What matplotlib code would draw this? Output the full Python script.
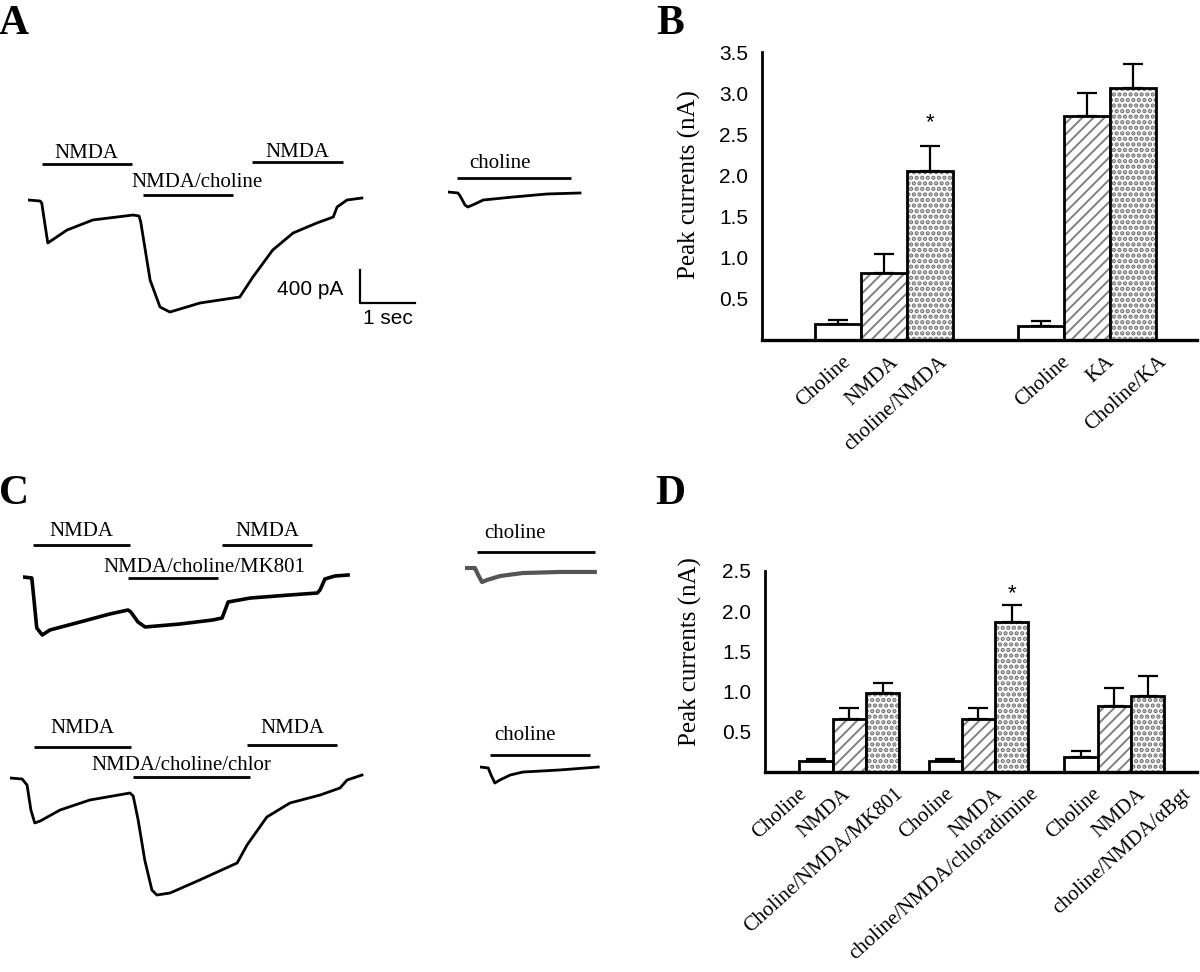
import matplotlib
matplotlib.use("Agg")
import matplotlib.pyplot as plt

# ---------------- data ----------------
# Panel A: whole-cell current traces (time in s, current in pA)
a_main_t = [0, 0.22, 0.25, 0.31, 0.36, 0.44, 0.71, 1.18, 1.91, 2.02, 2.05, 2.22, 2.40, 2.58,
            3.13, 3.85, 4.09, 4.45, 4.82, 5.25, 5.55, 5.62, 5.80, 6.07]
a_main_i = [0, -12, -36, -303, -521, -485, -364, -242, -182, -194, -267, -970, -1297, -1358,
            -1248, -1176, -933, -606, -400, -279, -206, -85, 0, 24]
a_chol_t = [0, 0.18, 0.22, 0.31, 0.36, 0.49, 0.64, 1.18, 1.80, 2.40]
a_chol_i = [0, -12, -48, -158, -182, -145, -97, -61, -24, -12]

# Panel C top (MK801) and bottom (chloradimine) traces
c1_main_t = [0, 0.16, 0.20, 0.25, 0.35, 0.49, 1.04, 1.58, 1.91, 1.96, 2.09, 2.22, 2.85, 3.45,
             3.62, 3.73, 4.13, 4.85, 5.35, 5.40, 5.49, 5.67, 5.91]
c1_main_i = [0, -12, -279, -618, -703, -642, -545, -448, -400, -424, -545, -606, -570, -521,
             -497, -303, -255, -218, -194, -158, -24, 12, 24]
c1_chol_t = [0, 0.18, 0.24, 0.31, 0.40, 0.64, 1.05, 1.73, 2.36]
c1_chol_i = [0, 0, -85, -170, -145, -97, -61, -48, -48]

c2_main_t = [0, 0.22, 0.31, 0.38, 0.45, 0.55, 0.91, 1.45, 2.18, 2.24, 2.33, 2.45, 2.58, 2.67,
             2.91, 3.45, 4.13, 4.31, 4.67, 5.09, 5.64, 6.00, 6.13, 6.40]
c2_main_i = [0, -12, -85, -388, -545, -521, -388, -267, -182, -218, -509, -994, -1358, -1418,
             -1394, -1236, -1030, -812, -473, -303, -206, -121, -24, 36]
c2_chol_t = [0, 0.15, 0.20, 0.27, 0.36, 0.55, 0.78, 1.45, 2.15]
c2_chol_i = [0, -12, -97, -194, -158, -97, -61, -36, 0]

# drug applications: (label, start s, end s)
a_apps = [("NMDA", 0.25, 1.89), ("NMDA/choline", 2.09, 3.73), ("NMDA", 4.07, 5.73)]
a_chol_app = ("choline", 0.16, 2.24)
c1_apps = [("NMDA", 0.18, 1.95), ("NMDA/choline/MK801", 1.91, 3.55), ("NMDA", 3.62, 5.25)]
c1_chol_app = ("choline", 0.22, 2.36)
c2_apps = [("NMDA", 0.44, 2.20), ("NMDA/choline/chlor", 2.24, 4.36), ("NMDA", 4.31, 5.95)]
c2_chol_app = ("choline", 0.18, 2.00)

# Panel B: peak currents (nA)
b_labels = ["Choline", "NMDA", "choline/NMDA", "Choline", "KA", "Choline/KA"]
b_values = [0.19, 0.81, 2.05, 0.17, 2.72, 3.06]
b_errors = [0.05, 0.23, 0.31, 0.06, 0.28, 0.29]
b_kind = ["open", "diag", "dots", "open", "diag", "dots"]

# Panel D: peak currents (nA)
d_labels = ["Choline", "NMDA", "Choline/NMDA/MK801",
            "Choline", "NMDA", "choline/NMDA/chloradimine",
            "Choline", "NMDA", "choline/NMDA/\u03b1Bgt"]
d_values = [0.135, 0.665, 0.98, 0.135, 0.665, 1.86, 0.19, 0.82, 0.95]
d_errors = [0.025, 0.135, 0.13, 0.025, 0.135, 0.22, 0.07, 0.22, 0.24]
d_kind = ["open", "diag", "dots"] * 3

# ---------------- layout ----------------
W, H = 1200, 972
PX_S = 55.0          # pixels per second
PX_PA = 33.0 / 400   # pixels per pA
SERIF = ["Liberation Serif", "DejaVu Serif"]
SANS = ["Liberation Sans", "DejaVu Sans"]

fig = plt.figure(figsize=(W / 100, H / 100), dpi=100)
fig.patch.set_facecolor("white")


def trace_ax(x0, y_base, width, above=70, below=140):
    ax = fig.add_axes([x0 / W, 1 - (y_base + below) / H, width / W, (above + below) / H])
    ax.set_xlim(0, width / PX_S)
    ax.set_ylim(-below / PX_PA, above / PX_PA)
    ax.axis("off")
    return ax


def draw_app(ax, app, bar_px, text_px, text_t=None):
    name, t0, t1 = app
    ax.plot([t0, t1], [bar_px / PX_PA] * 2, color="black", lw=2, solid_capstyle="butt")
    tx = (t0 + t1) / 2 if text_t is None else text_t
    ax.text(tx, text_px / PX_PA, name, ha="center", va="center", fontsize=15,
            family=SERIF)


def trace(ax, t, i, color="black", lw=2.0):
    ax.plot(t, i, color=color, lw=lw, solid_joinstyle="round")


# Panel A
ax = trace_ax(28, 200, 420)
trace(ax, a_main_t, a_main_i)
draw_app(ax, a_apps[0], 36, 47)
draw_app(ax, a_apps[1], 5, 18, text_t=3.08)
draw_app(ax, a_apps[2], 38, 48)
# scale bar
sb_t, sb_i = 6.04, -1248
ax.plot([sb_t, sb_t, sb_t + 1], [sb_i + 400, sb_i, sb_i], color="black", lw=1.6)
ax.text(sb_t - 0.3, sb_i + 160, "400 pA", ha="right", va="center", fontsize=15, family=SANS)
ax.text(sb_t + 0.5, sb_i - 185, "1 sec", ha="center", va="center", fontsize=15, family=SANS)

ax = trace_ax(448, 192, 160)
trace(ax, a_chol_t, a_chol_i)
draw_app(ax, a_chol_app, 14, 28, text_t=0.95)

# Panel C top
ax = trace_ax(23, 577, 360)
trace(ax, c1_main_t, c1_main_i, lw=2.6)
draw_app(ax, c1_apps[0], 32, 45)
draw_app(ax, c1_apps[1], -1, 10, text_t=3.29)
draw_app(ax, c1_apps[2], 32, 45)
ax = trace_ax(465, 568, 160)
trace(ax, c1_chol_t, c1_chol_i, color="#555555", lw=3.0)
draw_app(ax, c1_chol_app, 16, 35, text_t=0.91)

# Panel C bottom
ax = trace_ax(10, 778, 380)
trace(ax, c2_main_t, c2_main_i)
draw_app(ax, c2_apps[0], 31, 50)
draw_app(ax, c2_apps[1], 1, 13, text_t=3.11)
draw_app(ax, c2_apps[2], 33, 50)
ax = trace_ax(480, 767, 160)
trace(ax, c2_chol_t, c2_chol_i)
draw_app(ax, c2_chol_app, 12, 32, text_t=0.82)

HATCH = {"diag": ("///", 1.4, "#808080"), "dots": ("...", 2.2, "#767676")}


def bar_panel(rect, unit_px, xpos, values, errors, kinds, label_pos, labels, ymax, yticks, star_idx, star_y):
    left, top, right, bottom = rect
    ax = fig.add_axes([left / W, 1 - bottom / H, (right - left) / W, (bottom - top) / H])
    ax.set_xlim(0, (right - left) / unit_px)
    ax.set_ylim(0, ymax)
    for x, v, k in zip(xpos, values, kinds):
        if k in HATCH:
            hatch, hlw, hcol = HATCH[k]
            with plt.rc_context({"hatch.linewidth": hlw}):
                p = ax.bar(x, v, width=1, color="white", edgecolor=hcol, hatch=hatch, lw=0)
                for patch in p:
                    if hasattr(patch, "set_hatch_linewidth"):
                        patch.set_hatch_linewidth(hlw)
        ax.bar(x, v, width=1, fill=False, edgecolor="black", lw=2)
    ax.errorbar(xpos, values, yerr=[[0] * len(values), errors], fmt="none",
                ecolor="black", elinewidth=1.6, capsize=7, capthick=1.6)
    ax.text(xpos[star_idx], star_y, "*", ha="center", va="center", fontsize=16, family=SANS)
    for s in ("top", "right"):
        ax.spines[s].set_visible(False)
    ax.spines["left"].set_linewidth(2)
    ax.spines["bottom"].set_linewidth(2.4)
    ax.set_yticks(yticks)
    ax.set_yticklabels([f"{y:.1f}" for y in yticks], fontsize=15, family=SANS)
    ax.tick_params(axis="y", length=0, pad=10)
    ax.set_xticks(label_pos)
    ax.set_xticklabels(labels, rotation=42, ha="right", va="top", rotation_mode="anchor",
                       fontsize=15, family=SERIF)
    ax.tick_params(axis="x", length=0, pad=9)
    ax.set_ylabel("Peak currents (nA)", fontsize=18, family=SERIF)
    return ax


# Panel B
b_unit = 46.0
b_xpos = [1.65, 2.65, 3.65, 6.07, 7.07, 8.07]
b_lab_pos = [(px - 762) / b_unit for px in (842, 890, 938, 1061, 1105, 1158)]
axb = bar_panel((762, 52, 1197, 340), b_unit, b_xpos, b_values, b_errors, b_kind,
                b_lab_pos, b_labels, 3.5, [0.5, 1.0, 1.5, 2.0, 2.5, 3.0, 3.5], 2, 2.64)
axb.yaxis.set_label_coords(-0.14, 0.54)

# Panel D
d_unit = 33.3
d_xpos = [1.53, 2.53, 3.53, 5.41, 6.41, 7.41, 9.49, 10.49, 11.49]
d_lab_pos = [(px - 765) / d_unit for px in (798, 842, 894, 945, 994, 1030, 1092, 1137, 1182)]
axd = bar_panel((765, 571, 1197, 772), d_unit, d_xpos, d_values, d_errors, d_kind,
                d_lab_pos, d_labels, 2.5, [0.5, 1.0, 1.5, 2.0, 2.5], 5, 2.22)
axd.yaxis.set_label_coords(-0.145, 0.6)

# panel letters
for letter, px, py in [("A", 14, 24), ("B", 670, 24), ("C", 14, 494), ("D", 670, 494)]:
    fig.text(px / W, 1 - py / H, letter, ha="center", va="center", fontsize=30,
             fontweight="bold", family=SERIF)

fig.savefig("out.png", dpi=100)
